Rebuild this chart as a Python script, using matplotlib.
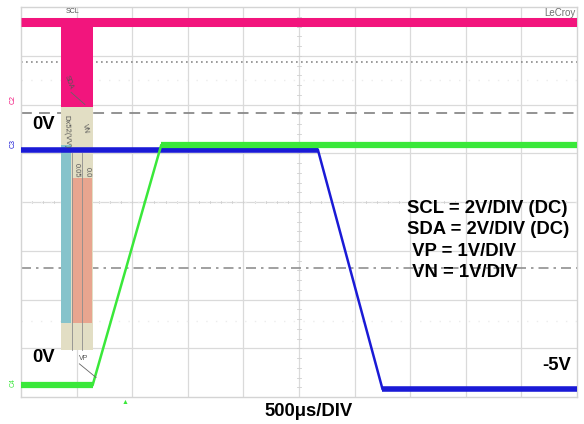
import matplotlib.pyplot as plt
import matplotlib.patches as mpatches

# screen is 10 x 8 divisions; times / levels below are in divisions
n_xdiv = 10
n_ydiv = 8

# trace breakpoints (divisions)
scl_t = [0, 10]
scl_v = [7.7, 7.7]
vp_t = [0, 1.29, 2.52, 10]
vp_v = [0.25, 0.25, 5.16, 5.16]
vn_t = [0, 5.34, 6.5, 10]
vn_v = [5.07, 5.07, 0.17, 0.17]

# reference markers (divisions)
zero_dashed = 5.83
dotted_ref = 6.87
dashdot_ref = 2.65
faint_refs = [6.5, 4.0, 1.55]

# legend bar block drawn by the scope (left, width, bottom, top, colour)
bar_blocks = [
    (0.72, 0.57, 5.95, 7.76, '#f2157d'),
    (0.72, 0.57, 0.97, 5.95, '#e2dec4'),
    (0.72, 0.18, 1.52, 5.17, '#86c3cb'),
    (0.92, 0.17, 1.52, 4.49, '#e8a58f'),
    (1.10, 0.18, 1.52, 4.49, '#e8a58f'),
]

scale_lines = ["SCL = 2V/DIV (DC)", "SDA = 2V/DIV (DC)",
               " VP = 1V/DIV", " VN = 1V/DIV"]

plt.rcParams['font.family'] = ['Liberation Sans', 'DejaVu Sans']

fig = plt.figure(figsize=(5.84, 4.24), dpi=100)
ax = fig.add_axes([21 / 584, 27 / 424, 556 / 584, 390 / 424])
ax.set_xlim(0, n_xdiv)
ax.set_ylim(0, n_ydiv)
ax.set_xticks([])
ax.set_yticks([])
for sp in ax.spines.values():
    sp.set_color('#d4d4d4')
    sp.set_linewidth(1)

grid_c = '#dadada'
for i in range(1, n_xdiv):
    ax.axvline(i, color=grid_c, lw=0.9, zorder=0)
for j in range(1, n_ydiv):
    ax.axhline(j, color=grid_c, lw=0.9, zorder=0)

# small ticks on centre lines
for k in range(n_xdiv * 5 + 1):
    ax.plot([k / 5, k / 5], [3.97, 4.03], color='#d0d0d0', lw=0.6, zorder=0)
for k in range(n_ydiv * 5 + 1):
    ax.plot([4.97, 5.03], [k / 5, k / 5], color='#d0d0d0', lw=0.6, zorder=0)

# reference lines
ax.axhline(zero_dashed, color='#8a8a8a', lw=1.3, ls=(0, (6, 4)), zorder=1)
ax.axhline(dotted_ref, color='#8a8a8a', lw=1.2, ls=(0, (1, 2)), zorder=1)
ax.axhline(dashdot_ref, color='#909090', lw=1.2, ls=(0, (6, 3, 1.5, 3)), zorder=1)
for r in faint_refs:
    ax.axhline(r, color='#ececec', lw=1, ls=(0, (1, 6)), zorder=1)

# traces: flat (noisy) parts are wide bands, edges are thin
ax.plot(scl_t, scl_v, color='#f2157d', lw=6.5, solid_capstyle='butt', zorder=3)
ax.plot(vn_t[1:3], vn_v[1:3], color='#1a1ad6', lw=1.8, zorder=4)
ax.plot(vn_t[:2], vn_v[:2], color='#1a1ad6', lw=4, solid_capstyle='butt', zorder=4)
ax.plot(vn_t[2:], vn_v[2:], color='#1a1ad6', lw=4, solid_capstyle='butt', zorder=4)
ax.plot(vp_t[1:3], vp_v[1:3], color='#3ae83a', lw=1.8, zorder=5)
ax.plot(vp_t[:2], vp_v[:2], color='#3ae83a', lw=4.5, solid_capstyle='butt', zorder=5)
ax.plot(vp_t[2:], vp_v[2:], color='#3ae83a', lw=4.5, solid_capstyle='butt', zorder=5)

# scope legend block
for x0, w, y0, y1, c in bar_blocks:
    ax.add_patch(mpatches.Rectangle((x0, y0), w, y1 - y0, facecolor=c,
                                    edgecolor='none', zorder=2))
for xs in (0.91, 1.095):
    ax.plot([xs, xs], [0.97, 5.0], color='#8c8c8c', lw=0.6, zorder=2)
ax.text(0.82, 5.1, 'Dx52(VV)', rotation=-88, fontsize=5.5, color='#555555',
        ha='center', va='bottom', zorder=6)
ax.text(1.0, 4.5, '0.05', rotation=-88, fontsize=5.5, color='#555555',
        ha='center', va='bottom', zorder=6)
ax.text(1.19, 4.5, '0.0', rotation=-88, fontsize=5.5, color='#555555',
        ha='center', va='bottom', zorder=6)
ax.text(1.15, 5.5, 'VN', rotation=-80, fontsize=5, color='#555555',
        ha='center', va='center', zorder=6)
ax.text(0.92, 7.83, 'SCL', fontsize=5, color='#555555', ha='center',
        va='bottom', zorder=6)
ax.text(0.85, 6.45, 'SDA', rotation=-70, fontsize=5, color='#555555',
        ha='center', va='center', zorder=6)
ax.plot([0.9, 1.15], [6.25, 6.0], color='#666666', lw=0.6, zorder=6)
ax.text(1.12, 0.78, 'VP', fontsize=5, color='#555555', ha='center',
        va='center', zorder=6)
ax.plot([1.05, 1.35], [0.68, 0.4], color='#666666', lw=0.6, zorder=6)

# annotations
bold = dict(fontsize=13.3, fontweight='bold', color='black', zorder=7)
ax.text(0.2, 5.6, '0V', ha='left', va='center', **bold)
ax.text(0.2, 0.82, '0V', ha='left', va='center', **bold)
ax.text(9.9, 0.65, '-5V', ha='right', va='center', **bold)
for i, s in enumerate(scale_lines):
    ax.text(6.95, 3.87 - i * 0.44, s, ha='left', va='center', **bold)
ax.text(9.97, 7.87, 'LeCroy', ha='right', va='center', fontsize=7,
        color='#707070', zorder=7)

fig.text(309 / 584, 1 - 411 / 424, '500\u03bcs/DIV', ha='center', va='center',
         fontsize=13.3, fontweight='bold')

# channel markers left of the screen
fig.text(13 / 584, 1 - 100 / 424, 'C2', rotation=90, fontsize=5,
         color='#f2157d', ha='center', va='center')
fig.text(13 / 584, 1 - 143 / 424, 'C3', rotation=90, fontsize=5,
         color='#1a1ad6', ha='center', va='center')
fig.text(13 / 584, 1 - 383 / 424, 'C4', rotation=90, fontsize=5,
         color='#3ae83a', ha='center', va='center')
# trigger position marker
fig.text(125 / 584, 1 - 402 / 424, '\u25b2', fontsize=5, color='#3ae83a',
         ha='center', va='center')

fig.savefig('out.png', dpi=100, facecolor='white')
